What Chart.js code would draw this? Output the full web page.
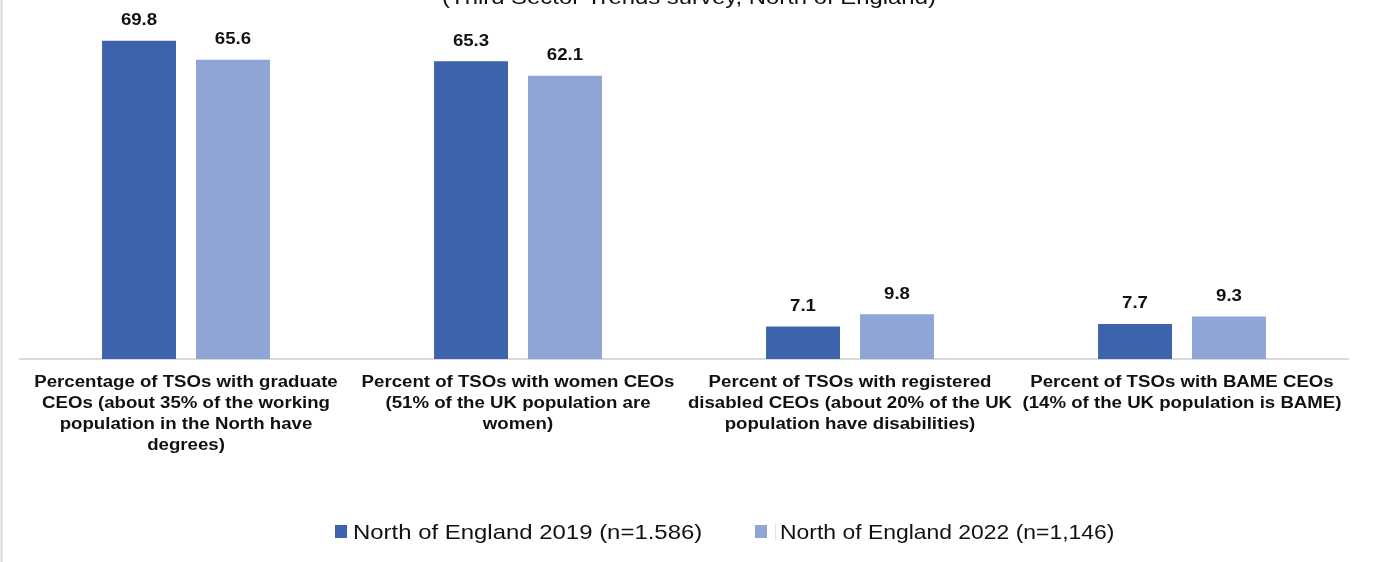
<!DOCTYPE html>
<html>
<head>
<meta charset="utf-8">
<script src="https://cdn.jsdelivr.net/npm/chart.js@4"></script>
<style>
html,body{margin:0;padding:0;background:#fff;}
#wrap{position:relative;width:1383px;height:562px;}
</style>
</head>
<body>
<div id="wrap"><canvas id="c" width="1383" height="562"></canvas></div>
<script>
const titleText = "(Third Sector Trends survey, North of England)";
const categories = [
  ["Percentage of TSOs with graduate", "CEOs (about 35% of the working", "population in the North have", "degrees)"],
  ["Percent of TSOs with women CEOs", "(51% of the UK population are", "women)"],
  ["Percent of TSOs with registered", "disabled CEOs (about 20% of the UK", "population have disabilities)"],
  ["Percent of TSOs with BAME CEOs", "(14% of the UK population is BAME)"]
];
const seriesNames = ["North of England 2019 (n=1.586)", "North of England 2022 (n=1,146)"];
const values2019 = [69.8, 65.3, 7.1, 7.7];
const values2022 = [65.6, 62.1, 9.8, 9.3];
const colors = ["#3C63AC", "#8FA5D5"];

const FONT = "'Liberation Sans', Arial, sans-serif";
const STRETCH = 1.165; // reference text is horizontally widened

function stretchedText(ctx, text, x, y, sx) {
  ctx.save();
  ctx.translate(x, y);
  ctx.scale(sx, 1);
  ctx.fillText(text, 0, 0);
  ctx.restore();
}

const extrasPlugin = {
  id: 'extras',
  afterDatasetsDraw(chart) {
    const ctx = chart.ctx;
    ctx.save();
    // data labels
    ctx.font = "bold 16px " + FONT;
    ctx.fillStyle = "#111";
    ctx.textAlign = "center";
    ctx.textBaseline = "middle";
    chart.data.datasets.forEach((ds, di) => {
      const meta = chart.getDatasetMeta(di);
      meta.data.forEach((el, i) => {
        stretchedText(ctx, ds.data[i].toFixed(1), el.x, el.y - 20, STRETCH);
      });
    });
    // category labels (drawn at the x scale's tick positions)
    const xs = chart.scales.x;
    ctx.font = "bold 16px " + FONT;
    chart.data.labels.forEach((lines, i) => {
      const x = xs.getPixelForTick(i);
      lines.forEach((ln, k) => {
        stretchedText(ctx, ln, x, xs.top + 24 + k * 21, STRETCH);
      });
    });
    // title (partially cut at top)
    ctx.font = "20.5px " + FONT;
    ctx.textBaseline = "alphabetic";
    stretchedText(ctx, titleText, 689, 4, STRETCH);
    // left border
    ctx.strokeStyle = "#d9d9d9";
    ctx.lineWidth = 2;
    ctx.beginPath();
    ctx.moveTo(1.5, 0);
    ctx.lineTo(1.5, 562);
    ctx.stroke();
    // legend
    const legendPos = [{bx: 335, tx: 353, sx: 1.18}, {bx: 755, tx: 780, sx: 1.13}];
    ctx.font = "20.3px " + FONT;
    ctx.textAlign = "left";
    ctx.textBaseline = "alphabetic";
    chart.data.datasets.forEach((ds, di) => {
      const p = legendPos[di];
      ctx.fillStyle = ds.backgroundColor;
      ctx.fillRect(p.bx, 525, 12, 13);
      ctx.fillStyle = "#111";
      stretchedText(ctx, ds.label, p.tx, 539, p.sx);
    });
    // faint separator next to second legend marker
    ctx.strokeStyle = "#e3e3e3";
    ctx.lineWidth = 1;
    ctx.beginPath();
    ctx.moveTo(775.5, 523);
    ctx.lineTo(775.5, 540);
    ctx.stroke();
    ctx.restore();
  }
};

new Chart(document.getElementById('c'), {
  type: 'bar',
  data: {
    labels: categories,
    datasets: [
      {label: seriesNames[0], data: values2019, backgroundColor: colors[0]},
      {label: seriesNames[1], data: values2022, backgroundColor: colors[1]}
    ]
  },
  options: {
    responsive: false,
    animation: false,
    devicePixelRatio: 1,
    categoryPercentage: 0.566,
    barPercentage: 0.787,
    layout: {padding: {top: 17, left: 20, right: 35, bottom: 0}},
    plugins: {legend: {display: false}, tooltip: {enabled: false}, title: {display: false}},
    scales: {
      y: {display: false, min: 0, max: 75},
      x: {
        grid: {display: false, drawTicks: false},
        border: {display: true, color: "#d9d9d9", width: 2},
        ticks: {display: false},
        afterFit(scale) { scale.height = 203; }
      }
    }
  },
  plugins: [extrasPlugin]
});
</script>
</body>
</html>
